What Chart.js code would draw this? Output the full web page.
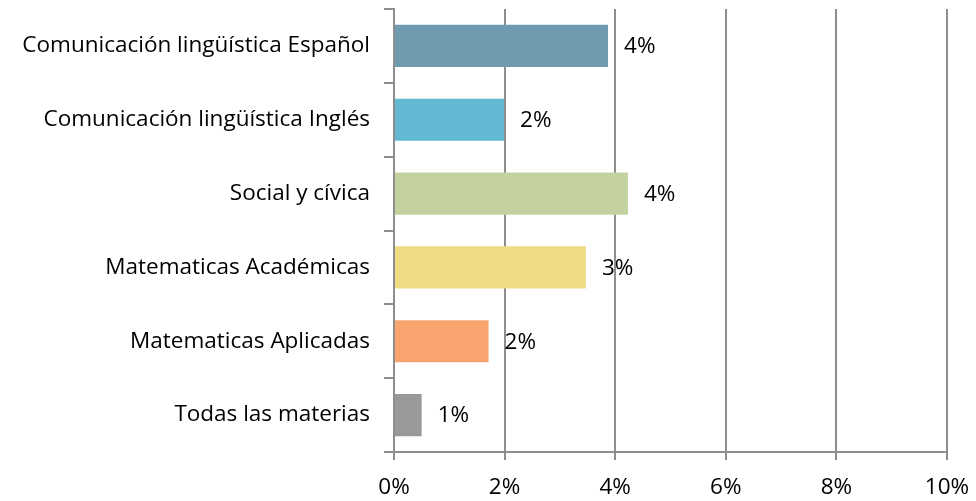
<!DOCTYPE html>
<html>
<head>
<meta charset="utf-8">
<script src="https://cdn.jsdelivr.net/npm/chart.js@4"></script>
<style>
  html, body { margin: 0; padding: 0; background: #fff; }
  #wrap { width: 976px; height: 501px; }
</style>
</head>
<body>
<div id="wrap"><canvas id="myChart" width="976" height="501"></canvas></div>
<script>
const categories = [
  "Comunicación lingüística Español",
  "Comunicación lingüística Inglés",
  "Social y cívica",
  "Matematicas Académicas",
  "Matematicas Aplicadas",
  "Todas las materias"
];
// percent values
const values = [3.87, 1.99, 4.23, 3.47, 1.71, 0.5];
const barColors = ["#6f9bb0", "#63b9d2", "#c4d2a0", "#f0db84", "#f7a46f", "#999999"];
const xTicks = [0, 2, 4, 6, 8, 10];

const FONT = "'Open Sans', sans-serif";
const FSIZE = 22.5;

// simple value labels at the end of each bar
const endLabels = {
  id: "endLabels",
  afterDatasetsDraw(chart) {
    const ctx = chart.ctx;
    const meta = chart.getDatasetMeta(0);
    ctx.save();
    ctx.font = FSIZE + "px " + FONT;
    ctx.fillStyle = "#000";
    ctx.textAlign = "left";
    ctx.textBaseline = "middle";
    meta.data.forEach(function (bar, i) {
      ctx.fillText(Math.round(values[i]) + "%", bar.x + 16, bar.y + 1);
    });
    ctx.restore();
  }
};

let ctx = document.getElementById("myChart");

let myChart = new Chart(ctx, {
  type: "bar",
  data: {
    labels: categories,
    datasets: [
      {
        data: values,
        backgroundColor: barColors,
        borderWidth: 0,
        categoryPercentage: 1,
        barPercentage: 0.57,
      },
    ],
  },
  options: {
    indexAxis: "y",
    responsive: false,
    animation: false,
    layout: { padding: { top: 9, right: 29, left: 0, bottom: 0 } },
    plugins: {
      legend: { display: false },
      tooltip: { enabled: false },
    },
    scales: {
      x: {
        min: 0,
        max: 10,
        afterBuildTicks: function (scale) {
          scale.ticks = xTicks.map(function (v) { return { value: v }; });
        },
        ticks: {
          color: "#000",
          font: { family: FONT, size: FSIZE },
          padding: 14,
          maxRotation: 0,
          callback: function (v) { return v + "%"; },
        },
        grid: {
          color: "#8e8e8e",
          lineWidth: 2,
          tickLength: 8,
        },
        border: { color: "#8e8e8e", width: 2 },
        afterFit: function (scale) {
          scale.height = 49;
          scale.paddingLeft = 0;
          scale.paddingRight = 0;
        },
      },
      y: {
        ticks: {
          color: "#000",
          font: { family: FONT, size: FSIZE },
          padding: 14,
        },
        grid: {
          offset: true,
          drawOnChartArea: false,
          color: "#8e8e8e",
          lineWidth: 2,
          tickLength: 10,
        },
        border: { color: "#8e8e8e", width: 2 },
        afterFit: function (scale) {
          scale.width = 394;
          scale.paddingTop = 0;
          scale.paddingBottom = 0;
        },
      },
    },
  },
  plugins: [endLabels],
});
</script>
</body>
</html>
